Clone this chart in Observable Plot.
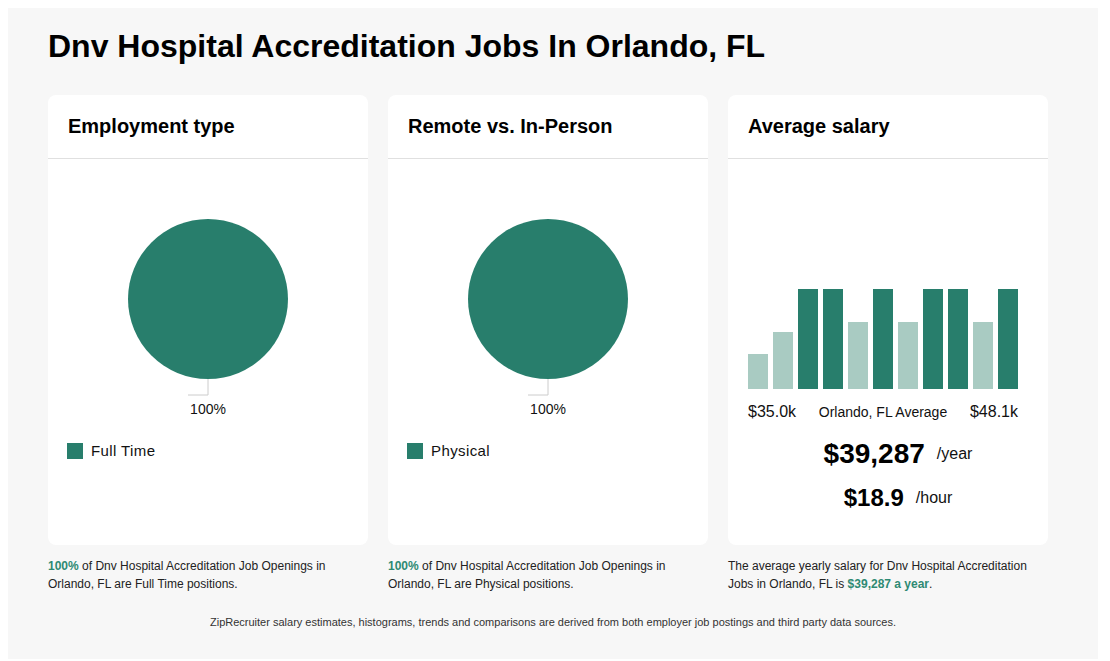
<!DOCTYPE html>
<html>
<head>
<meta charset="utf-8">
<script src="https://cdn.jsdelivr.net/npm/d3@7"></script>
<script src="https://cdn.jsdelivr.net/npm/@observablehq/plot@0.6"></script>
<style>
  html, body { margin: 0; padding: 0; background: #ffffff; }
  body { width: 1110px; height: 661px; position: relative; overflow: hidden;
         font-family: "Liberation Sans", Arial, Helvetica, sans-serif; color: #000; }
  .abs { position: absolute; line-height: 1; white-space: nowrap; }
  #panel { position: absolute; left: 8px; top: 8px; width: 1090px; height: 651px; background: #f7f7f7; }
  .card { position: absolute; top: 95px; width: 320px; height: 450px; background: #fff; border-radius: 8px; }
  .card .hdr { position: absolute; left: 20px; top: 20.5px; font-size: 20px; font-weight: bold; line-height: 1; }
  .card .rule { position: absolute; left: 0; top: 63px; width: 320px; height: 1px; background: #e0e0e0; }
  .legend { position: absolute; left: 19px; top: 347px; display: flex; align-items: center; font-size: 15px; letter-spacing: 0.4px; color: #111; }
  .legend .sw { width: 16px; height: 16px; margin-right: 8px; }
  .caption { position: absolute; top: 557px; width: 320px; font-size: 12px; line-height: 18px; color: #222; }
  .caption b { color: #2e8a73; }
  .row { position: absolute; display: flex; align-items: center; justify-content: center; gap: 12px; }
</style>
</head>
<body>
<div id="panel"></div>
<div class="abs" id="title" style="left:48px; top:29.5px; font-size:32px; font-weight:bold;"></div>
<div id="cards"></div>
<div class="abs" id="footer" style="left:8px; width:1090px; top:616.5px; font-size:11px; text-align:center; color:#333;"></div>
<script>
// ---------- data ----------
const pageTitle = "Dnv Hospital Accreditation Jobs In Orlando, FL";
const cardTitles = ["Employment type", "Remote vs. In-Person", "Average salary"];

const employmentLabels = ["Full Time"];
const employmentShares = [100];

const workModeLabels = ["Physical"];
const workModeShares = [100];

// salary histogram (relative heights)
const salaryBins = ["b1","b2","b3","b4","b5","b6","b7","b8","b9","b10","b11"];
const salaryHeights = [35, 57, 100, 100, 67, 100, 67, 100, 100, 67, 100];
const salaryTiers = ["low","low","high","high","low","high","low","high","high","low","high"];

const salaryMinLabel = "$35.0k";
const salaryMaxLabel = "$48.1k";
const salaryMidLabel = "Orlando, FL Average";
const salaryYearly = "$39,287";
const salaryHourly = "$18.9";

const captionTexts = [
  ["100%", " of Dnv Hospital Accreditation Job Openings in Orlando, FL are Full Time positions.", ""],
  ["100%", " of Dnv Hospital Accreditation Job Openings in Orlando, FL are Physical positions.", ""],
  ["", "The average yearly salary for Dnv Hospital Accreditation Jobs in Orlando, FL is ", "$39,287 a year"]
];
const footerText = "ZipRecruiter salary estimates, histograms, trends and comparisons are derived from both employer job postings and third party data sources.";

// ---------- style ----------
const dark = "#287e6c";
const light = "#a9cbc2";
const font = '"Liberation Sans", Arial, Helvetica, sans-serif';

document.getElementById("title").textContent = pageTitle;
document.getElementById("footer").textContent = footerText;

const cardLefts = [48, 388, 728];
const cardsEl = document.getElementById("cards");

function makeCard(i) {
  const c = document.createElement("div");
  c.className = "card";
  c.style.left = cardLefts[i] + "px";
  const h = document.createElement("div");
  h.className = "hdr"; h.textContent = cardTitles[i];
  const r = document.createElement("div");
  r.className = "rule";
  c.appendChild(h); c.appendChild(r);
  cardsEl.appendChild(c);
  // caption
  const cap = document.createElement("div");
  cap.className = "caption";
  cap.style.left = cardLefts[i] + "px";
  const [pre, mid, post] = captionTexts[i];
  if (pre) { const b = document.createElement("b"); b.textContent = pre; cap.appendChild(b); }
  cap.appendChild(document.createTextNode(mid));
  if (post) { const b = document.createElement("b"); b.textContent = post; cap.appendChild(b); cap.appendChild(document.createTextNode(".")); }
  document.body.appendChild(cap);
  return c;
}

function pieChart(labels, values) {
  const data = labels.map((label, i) => ({label, value: values[i]}));
  const total = d3.sum(values);
  return Plot.plot({
    width: 320, height: 266,
    margin: 0,
    style: {background: "transparent", fontFamily: font},
    color: {domain: labels, range: [dark, light, "#6aa797", "#d4e5e0"]},
    marks: [
      (index, scales, vals, dims) => {
        const cx = dims.width / 2, cy = 140, r = 80;
        const arcs = d3.pie().sort(null).value(d => d.value)(data);
        const arc = d3.arc().innerRadius(0).outerRadius(r);
        const g = d3.create("svg:g").attr("transform", `translate(${cx},${cy})`);
        g.selectAll("path.slice").data(arcs).join("path")
          .attr("class", "slice")
          .attr("d", arc)
          .attr("fill", d => scales.color(d.data.label));
        for (const a of arcs) {
          const m = (a.startAngle + a.endAngle) / 2;
          const x0 = Math.sin(m) * r, y0 = -Math.cos(m) * r;
          const x1 = Math.sin(m) * (r + 16), y1 = -Math.cos(m) * (r + 16);
          const dir = Math.sin(m) > 1e-6 ? 1 : -1;
          g.append("path")
            .attr("d", `M${x0},${y0}L${x1},${y1}L${x1 + dir * 20},${y1}`)
            .attr("fill", "none").attr("stroke", "#cccccc").attr("stroke-width", 1);
          g.append("text")
            .attr("x", x1).attr("y", y1 + 15)
            .attr("text-anchor", "middle")
            .attr("dominant-baseline", "middle")
            .attr("font-size", 14).attr("fill", "#111")
            .text(Math.round(a.data.value / total * 100) + "%");
        }
        return g.node();
      }
    ]
  });
}

function legend(card, labels) {
  const lg = document.createElement("div");
  lg.className = "legend";
  labels.forEach((l, i) => {
    const sw = document.createElement("div");
    sw.className = "sw"; sw.style.background = [dark, light][i % 2];
    const t = document.createElement("span"); t.textContent = l;
    lg.appendChild(sw); lg.appendChild(t);
  });
  card.appendChild(lg);
}

// card 1
const c1 = makeCard(0);
const p1 = pieChart(employmentLabels, employmentShares);
p1.style.position = "absolute"; p1.style.left = "0px"; p1.style.top = "64px";
c1.appendChild(p1);
legend(c1, employmentLabels);

// card 2
const c2 = makeCard(1);
const p2 = pieChart(workModeLabels, workModeShares);
p2.style.position = "absolute"; p2.style.left = "0px"; p2.style.top = "64px";
c2.appendChild(p2);
legend(c2, workModeLabels);

// card 3
const c3 = makeCard(2);
const salaryData = salaryBins.map((bin, i) => ({bin, height: salaryHeights[i], tier: salaryTiers[i]}));
const bars = Plot.plot({
  width: 320, height: 230,
  marginLeft: 20, marginRight: 30, marginTop: 130, marginBottom: 0,
  style: {background: "transparent", fontFamily: font},
  x: {domain: salaryBins, paddingInner: 0.2, paddingOuter: 0, axis: null},
  y: {domain: [0, 100], axis: null},
  color: {domain: ["high", "low"], range: [dark, light]},
  marks: [
    Plot.barY(salaryData, {x: "bin", y: "height", fill: "tier"})
  ]
});
bars.style.position = "absolute"; bars.style.left = "0px"; bars.style.top = "64px";
c3.appendChild(bars);

const lbl = document.createElement("div");
lbl.style.cssText = "position:absolute; left:20px; width:270px; top:309px; display:flex; justify-content:space-between; align-items:center; line-height:1; color:#111;";
const lMin = document.createElement("span"); lMin.style.fontSize = "16px"; lMin.textContent = salaryMinLabel;
const lMid = document.createElement("span"); lMid.style.fontSize = "14px"; lMid.textContent = salaryMidLabel;
const lMax = document.createElement("span"); lMax.style.fontSize = "16px"; lMax.textContent = salaryMaxLabel;
lbl.append(lMin, lMid, lMax);
c3.appendChild(lbl);

function valueRow(top, value, unit, size) {
  const row = document.createElement("div");
  row.className = "row";
  row.style.left = "20px"; row.style.width = "300px"; row.style.top = top + "px";
  row.style.lineHeight = "1";
  const v = document.createElement("span");
  v.style.fontSize = size + "px"; v.style.fontWeight = "bold"; v.textContent = value;
  const u = document.createElement("span");
  u.style.fontSize = "16px"; u.textContent = unit; u.style.color = "#111";
  row.append(v, u);
  c3.appendChild(row);
}
valueRow(345, salaryYearly, "/year", 28);
valueRow(391, salaryHourly, "/hour", 24);
</script>
</body>
</html>
